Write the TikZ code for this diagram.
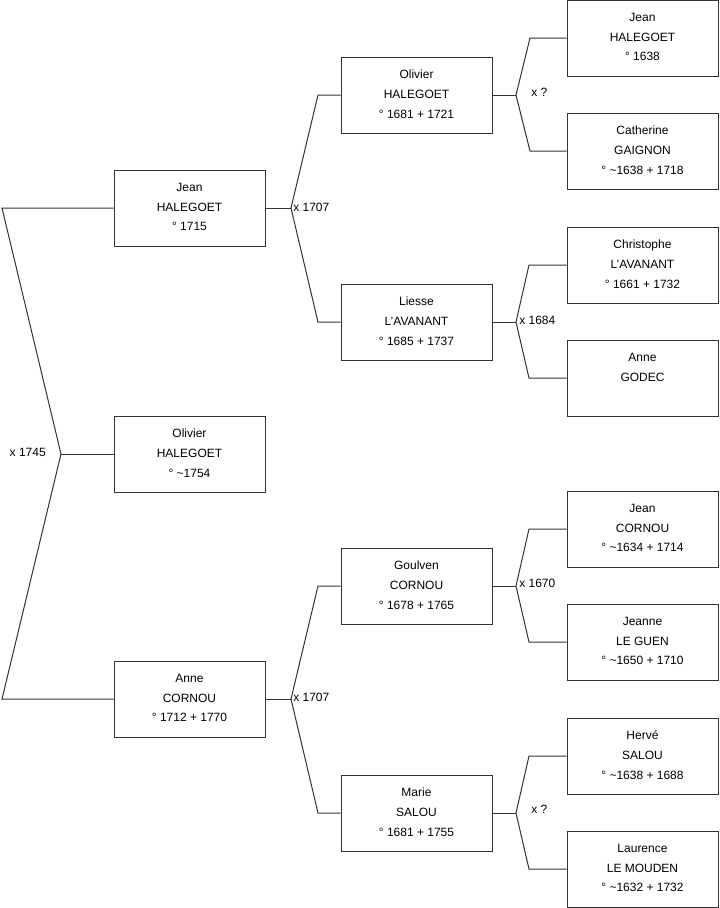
\documentclass[tikz,border=0pt]{standalone}
\usepackage{fontspec}
\setmainfont{Liberation Sans}
\newcommand{\apos}{\symbol{39}}
\begin{document}
\begin{tikzpicture}[x=0.75pt,y=-0.75pt,
  person/.style={draw=black!80,line width=0.75pt,fill=white,minimum width=113.25pt,minimum height=57pt,
    inner sep=0pt,align=center,font=\fontsize{9}{14.8}\selectfont,text depth=1.5pt},
  link/.style={draw=black!80,line width=0.75pt},
  lab/.style={font=\fontsize{9}{11}\selectfont,inner sep=0pt}]
\useasboundingbox (0,0) rectangle (719,908);
% column 1
\node[person] (jh) at (189.5,208) {Jean\\HALEGOET\\° 1715};
\node[person] (oh) at (189.5,454) {Olivier\\HALEGOET\\° \textasciitilde1754};
\node[person] (ac) at (189.5,699) {Anne\\CORNOU\\° 1712 + 1770};
% column 2
\node[person] (ohp) at (416.5,95) {Olivier\\HALEGOET\\° 1681 + 1721};
\node[person] (la) at (416.5,322) {Liesse\\L\apos AVANANT\\° 1685 + 1737};
\node[person] (gc) at (416.5,586) {Goulven\\CORNOU\\° 1678 + 1765};
\node[person] (ms) at (416.5,813) {Marie\\SALOU\\° 1681 + 1755};
% column 3
\node[person] (jh2) at (642.5,38) {Jean\\HALEGOET\\° 1638};
\node[person] (cg) at (642.5,151) {Catherine\\GAIGNON\\° \textasciitilde1638 + 1718};
\node[person] (cl) at (642.5,265) {Christophe\\L\apos AVANANT\\° 1661 + 1732};
\node[person] (ag) at (642.5,378) {Anne\\GODEC\\\mbox{}};
\node[person] (jc) at (642.5,529) {Jean\\CORNOU\\° \textasciitilde1634 + 1714};
\node[person] (jl) at (642.5,642) {Jeanne\\LE GUEN\\° \textasciitilde1650 + 1710};
\node[person] (hs) at (642.5,756) {Hervé\\SALOU\\° \textasciitilde1638 + 1688};
\node[person] (lm) at (642.5,869) {Laurence\\LE MOUDEN\\° \textasciitilde1632 + 1732};
% family 1 (left)
\coordinate (a1) at (2,208);
\coordinate (f1) at (61,454);
\coordinate (a2) at (2,699);
\draw[link] (jh.west) -- (a1) -- (f1) -- (a2) -- (ac.west);
\draw[link] (f1) -- (oh.west);
\node[lab,anchor=east] (l1) at (46,452) {x 1745};
% family jean halegoet
\coordinate (b1) at (291,208);
\coordinate (b1u) at (318,95);
\coordinate (b1d) at (318,322);
\draw[link] (jh.east) -- (b1);
\draw[link] (ohp.west) -- (b1u) -- (b1) -- (b1d) -- (la.west);
\node[lab,anchor=west] (l2) at (293,207) {x 1707};
% family anne cornou
\coordinate (b2) at (291,699);
\coordinate (b2u) at (318,586);
\coordinate (b2d) at (318,813);
\draw[link] (ac.east) -- (b2);
\draw[link] (gc.west) -- (b2u) -- (b2) -- (b2d) -- (ms.west);
\node[lab,anchor=west] (l3) at (293,697) {x 1707};
% family olivier
\coordinate (c1) at (516,95);
\coordinate (c1u) at (530,38);
\coordinate (c1d) at (530,151);
\draw[link] (ohp.east) -- (c1);
\draw[link] (jh2.west) -- (c1u) -- (c1) -- (c1d) -- (cg.west);
\node[lab,anchor=west] (l4) at (531,92) {x ?};
% family liesse
\coordinate (c2) at (516,322);
\coordinate (c2u) at (529,265);
\coordinate (c2d) at (529,378);
\draw[link] (la.east) -- (c2);
\draw[link] (cl.west) -- (c2u) -- (c2) -- (c2d) -- (ag.west);
\node[lab,anchor=west] (l5) at (519,320) {x 1684};
% family goulven
\coordinate (c3) at (516,586);
\coordinate (c3u) at (529,529);
\coordinate (c3d) at (529,642);
\draw[link] (gc.east) -- (c3);
\draw[link] (jc.west) -- (c3u) -- (c3) -- (c3d) -- (jl.west);
\node[lab,anchor=west] (l6) at (519,583) {x 1670};
% family marie
\coordinate (c4) at (516,813);
\coordinate (c4u) at (529,756);
\coordinate (c4d) at (529,869);
\draw[link] (ms.east) -- (c4);
\draw[link] (hs.west) -- (c4u) -- (c4) -- (c4d) -- (lm.west);
\node[lab,anchor=west] (l7) at (531,809) {x ?};
\end{tikzpicture}
\end{document}
